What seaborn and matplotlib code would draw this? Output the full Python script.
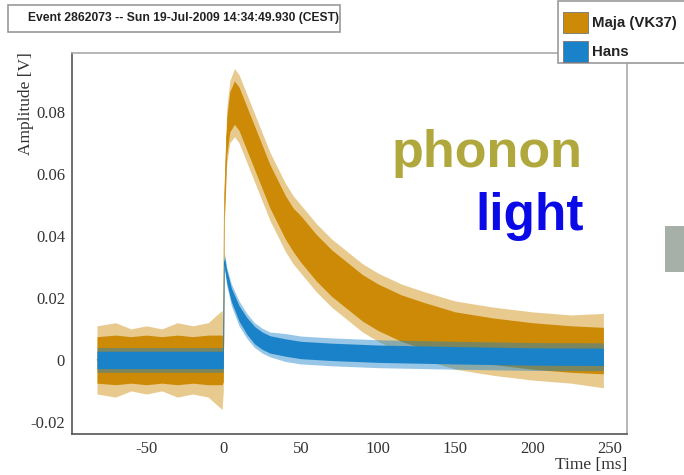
import numpy as np
import pandas as pd
import matplotlib
matplotlib.use("Agg")
import matplotlib.pyplot as plt
import seaborn as sns
from matplotlib.patches import Rectangle
from matplotlib.ticker import MultipleLocator, FixedLocator

# ---------------- data ----------------
title_text = "Event 2862073 -- Sun 19-Jul-2009 14:34:49.930 (CEST)"
series_names = ["Maja (VK37)", "Hans"]

# phonon channel (Maja): time [ms], centre of the noisy band, dense half-width, spike half-width
maja_time = [-82, -70, -60, -50, -40, -30, -20, -10, -1, -0.2, 0.5, 2, 4, 7, 10, 14, 18, 22, 26, 30, 35,
             40, 45, 50, 60, 70, 80, 90, 100, 115, 130, 150, 175, 200, 225, 246]
maja_mid = [0.0, 0.0, 0.0, 0.0, 0.0, 0.0, 0.0, 0.0, 0.0, 0.0, 0.050, 0.072, 0.080, 0.083, 0.081, 0.076,
            0.071, 0.066, 0.061, 0.056, 0.051, 0.046, 0.042, 0.039, 0.033, 0.028, 0.024, 0.020, 0.017,
            0.0135, 0.011, 0.008, 0.006, 0.0045, 0.0035, 0.003]
maja_half = [0.0075, 0.008, 0.0075, 0.008, 0.0075, 0.008, 0.0075, 0.008, 0.008, 0.007, 0.004, 0.006,
             0.0065, 0.007, 0.007, 0.007, 0.007, 0.007, 0.007, 0.007, 0.007, 0.007, 0.007, 0.0075, 0.0075,
             0.0075, 0.0075, 0.0075, 0.0075, 0.0075, 0.0075, 0.0075, 0.0075, 0.0075, 0.0075, 0.0075]
maja_spike = [0.011, 0.012, 0.010, 0.011, 0.010, 0.012, 0.011, 0.012, 0.016, 0.010, 0.006, 0.009,
              0.010, 0.011, 0.011, 0.011, 0.011, 0.011, 0.011, 0.011, 0.011, 0.011, 0.011, 0.011,
              0.011, 0.011, 0.011, 0.011, 0.011, 0.011, 0.011, 0.011, 0.011, 0.011, 0.011, 0.012]

# light channel (Hans)
hans_time = [-82, -40, -1, -0.2, 0.5, 2, 5, 10, 15, 20, 25, 30, 40, 50, 70, 100, 150, 200, 246]
hans_mid = [0.0, 0.0, 0.0, 0.0, 0.032, 0.027, 0.021, 0.015, 0.011, 0.008, 0.0062, 0.005, 0.004,
            0.0032, 0.0026, 0.002, 0.0015, 0.0011, 0.001]
hans_half = [0.0028, 0.0028, 0.0028, 0.0028, 0.0015, 0.002, 0.0022, 0.0025, 0.0027, 0.0028, 0.0028,
             0.0028, 0.0028, 0.0028, 0.0028, 0.0028, 0.0028, 0.0028, 0.0028]
hans_spike = [0.004, 0.004, 0.004, 0.004, 0.0025, 0.003, 0.0035, 0.004, 0.004, 0.004, 0.004, 0.004,
              0.0045, 0.0045, 0.0045, 0.0045, 0.0045, 0.0045, 0.0045]

x_ticks = [-50, 0, 50, 100, 150, 200, 250]
y_ticks = [-0.02, 0, 0.02, 0.04, 0.06, 0.08]
y_tick_labels = ["-0.02", "0", "0.02", "0.04", "0.06", "0.08"]

# ---------------- styling ----------------
col_maja = "#cc8a06"
col_hans = "#1a82c8"
axis_col = "#555555"

sns.set_theme(style="white")
plt.rcParams['font.family'] = ['Liberation Sans', 'DejaVu Sans']
plt.rcParams['axes.unicode_minus'] = False

W, H = 684, 475
fig = plt.figure(figsize=(W / 100, H / 100), dpi=100)

ax_l, ax_r, ax_t, ax_b = 72, 627, 52.7, 434
ax = fig.add_axes([ax_l / W, (H - ax_b) / H, (ax_r - ax_l) / W, (ax_b - ax_t) / H])

maja = pd.DataFrame({"time": maja_time, "mid": maja_mid, "half": maja_half, "spike": maja_spike})
hans = pd.DataFrame({"time": hans_time, "mid": hans_mid, "half": hans_half, "spike": hans_spike})

z = 1
for df, col in [(maja, col_maja), (hans, col_hans)]:
    sns.lineplot(data=df, x="time", y="mid", ax=ax, color=col, lw=0.5, legend=False, zorder=z)
    ax.fill_between(df["time"], df["mid"] - df["spike"], df["mid"] + df["spike"],
                    color=col, alpha=0.45, lw=0, zorder=z + 1)
    ax.fill_between(df["time"], df["mid"] - df["half"], df["mid"] + df["half"],
                    color=col, alpha=1.0, lw=0, zorder=z + 2)
    z += 3

ax.set_xlim(-98.2, 261.3)
ax.set_ylim(-0.0239, 0.0991)
ax.set_xlabel("")
ax.set_ylabel("")

ax.xaxis.set_major_locator(FixedLocator(x_ticks))
ax.xaxis.set_minor_locator(MultipleLocator(10))
ax.yaxis.set_major_locator(FixedLocator(y_ticks))
ax.yaxis.set_minor_locator(MultipleLocator(0.005))
ax.set_yticklabels(y_tick_labels)
ax.tick_params(which="major", direction="in", length=10, width=0.8, color=axis_col,
               labelsize=12, labelcolor="#333333", pad=5)
ax.tick_params(which="minor", direction="in", length=5, width=0.8, color=axis_col)
ax.tick_params(axis="both", which="both", top=False, right=False)
for lab in ax.get_xticklabels() + ax.get_yticklabels():
    lab.set_family("Liberation Serif")

for side in ["left", "bottom"]:
    ax.spines[side].set_color(axis_col)
    ax.spines[side].set_linewidth(1.2)
for side in ["top", "right"]:
    ax.spines[side].set_color("#aaaaaa")
    ax.spines[side].set_linewidth(1.2)

fig.text(26 / W, 1 - 52 / H, "Amplitude [V]", rotation=90, ha="center", va="top",
         family="Liberation Serif", fontsize=12.5, color="#333333")
fig.text(627 / W, 1 - 465 / H, "Time [ms]", ha="right", va="center",
         family="Liberation Serif", fontsize=12.5, color="#333333")

# phonon / light annotations
fig.text(583 / W, 1 - 167 / H, "phonon", ha="right", va="baseline", fontsize=37.5,
         fontweight="bold", color="#b0a83c")
fig.text(584 / W, 1 - 230 / H, "light", ha="right", va="baseline", fontsize=37,
         fontweight="bold", color="#0a0ae8")

# title box
fig.patches.append(Rectangle((8 / W, 1 - 32 / H), 332 / W, 27 / H, transform=fig.transFigure,
                             facecolor="white", edgecolor="#9a9a9a", lw=1.2))
fig.text(183 / W, 1 - 18.5 / H, title_text, ha="center", va="center", fontsize=8.7,
         fontweight="bold", color="#222222")

# legend box
fig.patches.append(Rectangle((558 / W, 1 - 63 / H), 140 / W, 62 / H, transform=fig.transFigure,
                             facecolor="white", edgecolor="#9a9a9a", lw=1.2, clip_on=False))
for (name, col, y0) in [(series_names[0], col_maja, 12), (series_names[1], col_hans, 41)]:
    fig.patches.append(Rectangle((563 / W, 1 - (y0 + 21) / H), 25 / W, 21 / H,
                                 transform=fig.transFigure, facecolor=col, edgecolor="#777777", lw=0.6))
    fig.text(592 / W, 1 - (y0 + 10.5) / H, name, ha="left", va="center", fontsize=10.8,
             fontweight="bold", color="#222222")

# grey box at the right edge
fig.patches.append(Rectangle((665 / W, 1 - 272 / H), 25 / W, 46 / H, transform=fig.transFigure,
                             facecolor="#a6b0a8", edgecolor="none"))

fig.savefig("out.png", dpi=100)
